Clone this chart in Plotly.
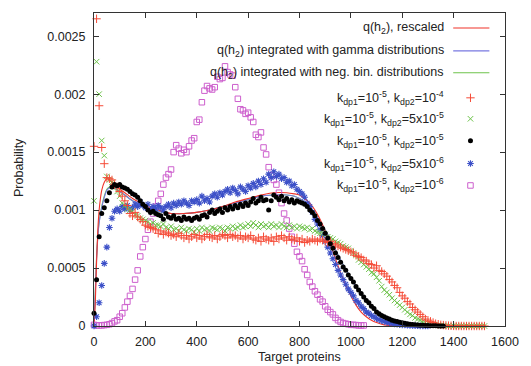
import plotly.graph_objects as go

SCALE = 1e-5  # all probability values below are given in units of 1e-5

# ---------------- data ----------------
bins_red = list(range(0, 1530, 10))
p_red = [155, 265, 190, 154, 140, 128, 127, 126, 122, 120,
         116, 112, 108, 104, 97, 95, 98, 94, 92, 90,
         87, 86, 85, 84, 83, 80, 82, 79, 81, 80,
         78, 79, 77, 80, 78, 76, 78, 75, 77, 79,
         76, 78, 75, 77, 79, 77, 76, 78, 75, 77,
         79, 78, 76, 79, 77, 78, 76, 78, 75, 77,
         76, 78, 75, 74, 76, 73, 77, 75, 74, 76,
         73, 77, 75, 78, 76, 74, 77, 75, 74, 76,
         73, 75, 72, 74, 73, 75, 74, 73, 75, 74,
         73, 72, 73, 71, 70, 69, 68, 67, 66, 65,
         64, 63, 61, 60, 59, 57, 56, 54, 53, 50,
         52, 48, 47, 45, 43, 40, 38, 35, 33, 29,
         26, 24, 21, 19, 16, 14, 12, 10, 8, 6,
         5, 4, 3, 2, 1.5, 1, 0.8, 0.5, 0.3, 0.2,
         0.1, 0, 0, 0, 0, 0, 0, 0, 0, 0,
         0, 0, 0]

bins_green = list(range(0, 1530, 10))
p_green = [108, 228, 200, 160, 147, 129, 126, 124, 120, 116,
           112, 106, 104, 101, 100, 99, 96, 95, 93, 92,
           91, 90, 88, 89, 87, 87, 86, 88, 85, 84,
           86, 83, 84, 82, 85, 83, 82, 84, 83, 81,
           84, 82, 85, 83, 84, 82, 85, 84, 83, 85,
           84, 82, 85, 84, 86, 84, 85, 87, 85, 86,
           88, 86, 89, 87, 85, 88, 86, 87, 85, 88,
           86, 87, 85, 88, 86, 85, 87, 85, 86, 84,
           86, 85, 84, 85, 83, 84, 82, 81, 80, 80,
           79, 77, 76, 75, 73, 72, 71, 69, 68, 67,
           65, 63, 61, 57, 55, 53, 51, 49, 46, 45,
           42, 39, 34, 31, 29, 27, 24, 22, 20, 18,
           16, 14, 12, 10, 9, 7, 6, 5, 4, 3,
           2.5, 2, 1.5, 1, 0.8, 0.5, 0.3, 0.2, 0.1, 0,
           0, 0, 0, 0, 0, 0, 0, 0, 0, 0,
           0, 0, 0]

bins_black = list(range(0, 1370, 10))
p_black = [11, 40, 77, 97, 102, 108, 115, 120, 122, 121,
           122, 120, 119, 118, 116, 114, 113, 111, 108, 105,
           103, 100, 98, 99, 97, 96, 95, 92, 97, 94,
           93, 95, 92, 93, 91, 94, 92, 93, 91, 93,
           94, 92, 95, 96, 94, 98, 100, 97, 99, 101,
           98, 102, 100, 103, 101, 104, 102, 105, 103, 106,
           104, 107, 110, 106, 108, 111, 108, 109, 100, 108,
           113, 111, 109, 112, 108, 110, 107, 109, 106, 108,
           107, 106, 105, 103, 100, 98, 95, 91, 88, 84,
           80, 76, 71, 67, 63, 59, 55, 51, 48, 44,
           41, 38, 34, 31, 28, 25, 22, 20, 17, 15,
           12, 10.5, 9, 8, 7, 6, 5, 4.3, 3.8, 3.2,
           2.7, 2.3, 1.9, 1.6, 1.3, 1.1, 0.9, 0.7, 0.6, 0.5,
           0.4, 0.3, 0.2, 0.15, 0.1, 0.05, 0]

bins_blue = list(range(0, 1310, 10))
p_blue = [0, 8, 20, 35, 54, 68, 85, 93, 99, 101,
          99, 103, 101, 104, 100, 102, 105, 103, 107, 104,
          102, 105, 100, 103, 101, 104, 102, 100, 103, 105,
          102, 106, 104, 107, 105, 108, 106, 104, 108, 107,
          109, 106, 112, 108, 110, 107, 112, 114, 111, 115,
          113, 116, 118, 115, 119, 117, 114, 120, 118, 116,
          121, 119, 123, 120, 125, 122, 127, 124, 131, 128,
          133, 129, 131, 127, 128, 124, 125, 121, 122, 118,
          116, 114, 111, 106, 103, 98, 92, 88, 83, 78,
          73, 68, 63, 58, 53, 48, 44, 40, 36, 32,
          29, 26, 22, 20, 17, 15, 12, 11, 9, 8,
          6.5, 5.5, 4.5, 4, 3.3, 2.7, 2.2, 1.8, 1.5, 1.2,
          1, 0.8, 0.6, 0.5, 0.4, 0.3, 0.2, 0.15, 0.1, 0.05,
          0]

bins_magenta = list(range(0, 1060, 10))
p_magenta = [1, 0.5, 0.5, 0.5, 0.8, 1, 1.5, 2.5, 4, 5,
             8, 11, 16, 21, 26, 32, 40, 48, 60, 68,
             75, 83, 90, 97, 103, 108, 114, 122, 128, 131,
             135, 150, 156, 153, 149, 152, 150, 155, 160, 162,
             176, 178, 193, 203, 207, 205, 204, 206, 215, 213,
             214, 224, 219, 217, 216, 206, 196, 187, 186, 183,
             184, 180, 176, 165, 163, 167, 154, 148, 137, 130,
             126, 122, 115, 106, 97, 91, 84, 77, 71, 64,
             60, 56, 49, 44, 38, 34, 30, 27, 23, 21,
             17, 14, 12, 10, 7, 5, 3.5, 2.5, 2, 1.5,
             1, 1, 0.8, 0.5, 0.5, 0.5]

# smooth curves
line_x_red = [0, 5, 10, 15, 20, 25, 30, 40, 50, 60, 70, 80, 100, 120, 150,
              200, 250, 300, 350, 400, 450, 500, 550, 600, 650, 700, 750,
              780, 800, 820, 840, 860, 880, 900, 920, 940, 960, 980, 1000,
              1020, 1040, 1060, 1080, 1100, 1130, 1160, 1200, 1300, 1500]
q_red = [0, 20, 55, 83, 100, 110, 117, 124, 127, 126, 124, 122, 118, 115, 110,
         104, 100, 97, 97, 98, 100, 103, 107, 110, 113, 115, 115,
         114, 113, 110, 106, 100, 92, 82, 70, 58, 46, 35, 26,
         18, 12, 8, 5, 3, 1, 0.5, 0.1, 0, 0]

line_x_mix = [0, 5, 10, 15, 20, 30, 40, 50, 60, 70, 80, 100, 120, 150, 200,
              250, 300, 350, 400, 450, 500, 550, 600, 650, 700, 750, 780,
              800, 820, 840, 860, 880, 900, 920, 940, 960, 980, 1000, 1020,
              1040, 1060, 1080, 1100, 1120, 1140, 1160, 1180, 1200, 1250,
              1300, 1500]
q_gamma = [0, 28, 58, 77, 89, 102, 111, 117, 119, 120, 119, 116, 113, 108, 102,
           99, 97, 97, 98, 100, 103, 106, 109, 112, 113, 113, 112,
           110, 107, 103, 97, 90, 83, 75, 66, 57, 49, 41, 34,
           27, 21, 16, 12, 9, 6, 4, 3, 2, 1,
           0, 0]
q_negbin = [0, 30, 60, 78, 90, 103, 112, 118, 120, 120, 119, 116, 113, 108, 102,
            99, 97, 97, 98, 100, 103, 106, 109, 112, 113, 113, 112,
            110, 107, 103, 97, 90, 83, 75, 66, 57, 49, 41, 34,
            27, 21, 16, 12, 9, 6, 4, 3, 2, 1,
            0, 0]

x_ticks = [0, 200, 400, 600, 800, 1000, 1200, 1400, 1600]
y_ticks = [0, 0.0005, 0.001, 0.0015, 0.002, 0.0025]
y_tick_labels = ["0", "0.0005", "0.001", "0.0015", "0.002", "0.0025"]

legend_labels = [
    "q(h<sub>2</sub>), rescaled",
    "q(h<sub>2</sub>) integrated with gamma distributions",
    "q(h<sub>2</sub>) integrated with neg. bin. distributions",
    "k<sub>dp1</sub>=10<sup>-5</sup>, k<sub>dp2</sub>=10<sup>-4</sup>",
    "k<sub>dp1</sub>=10<sup>-5</sup>, k<sub>dp2</sub>=5x10<sup>-5</sup>",
    "k<sub>dp1</sub>=10<sup>-5</sup>, k<sub>dp2</sub>=10<sup>-5</sup>",
    "k<sub>dp1</sub>=10<sup>-5</sup>, k<sub>dp2</sub>=5x10<sup>-6</sup>",
    "k<sub>dp1</sub>=10<sup>-5</sup>, k<sub>dp2</sub>=10<sup>-6</sup>",
]

# ---------------- style ----------------
C_RED = "rgb(245,75,55)"
C_RED_LINE = "rgb(240,50,40)"
C_BLUE_LINE = "rgb(120,120,225)"
C_GREEN = "rgb(110,195,75)"
C_BLUE = "rgb(60,80,200)"
C_MAG = "rgb(205,95,205)"
FONT = "Liberation Sans, Arial, Helvetica, sans-serif"

def sc(v):
    return [a * SCALE for a in v]

fig = go.Figure()

line_specs = [
    (line_x_mix, q_negbin, C_GREEN),
    (line_x_mix, q_gamma, C_BLUE_LINE),
    (line_x_red, q_red, C_RED_LINE),
]
for xs, ys, col in line_specs:
    fig.add_trace(go.Scatter(x=xs, y=sc(ys), mode="lines",
                             line=dict(color=col, width=1.1, shape="spline", smoothing=0.6),
                             showlegend=False, hoverinfo="skip"))

M_MAG = dict(symbol="square-open", size=5.5, color=C_MAG, line=dict(width=1, color=C_MAG))
M_BLUE = dict(symbol="asterisk-open", size=5.5, color=C_BLUE, line=dict(width=1.1, color=C_BLUE))
M_GREEN = dict(symbol="x-thin-open", size=5.5, color=C_GREEN, line=dict(width=1, color=C_GREEN))
M_RED = dict(symbol="cross-thin-open", size=6, color=C_RED, line=dict(width=1, color=C_RED))
M_BLACK = dict(symbol="circle", size=5, color="black", line=dict(width=0))

marker_specs = [
    (bins_magenta, p_magenta, M_MAG),
    (bins_blue, p_blue, M_BLUE),
    (bins_green, p_green, M_GREEN),
    (bins_red, p_red, M_RED),
    (bins_black, p_black, M_BLACK),
]
for xs, ys, mk in marker_specs:
    fig.add_trace(go.Scatter(x=xs, y=sc(ys), mode="markers", marker=mk,
                             showlegend=False, hoverinfo="skip", cliponaxis=False))

# ---------------- manual gnuplot-style key ----------------
row_y = [0.952, 0.879, 0.809, 0.729, 0.662, 0.592, 0.519, 0.449]
text_x = 0.857
for lab, yy in zip(legend_labels, row_y):
    fig.add_annotation(x=text_x, y=yy, xref="paper", yref="paper", text=lab,
                       showarrow=False, xanchor="right", yanchor="middle",
                       font=dict(family=FONT, size=12.5, color="#222"))

key_line_cols = [C_RED_LINE, C_BLUE_LINE, C_GREEN]
for col, yy in zip(key_line_cols, row_y[:3]):
    fig.add_trace(go.Scatter(x=[0.874, 0.962], y=[yy, yy], xaxis="x2", yaxis="y2",
                             mode="lines", line=dict(color=col, width=1.1),
                             showlegend=False, hoverinfo="skip"))
key_markers = [M_RED, M_GREEN, M_BLACK, M_BLUE, M_MAG]
for mk, yy in zip(key_markers, row_y[3:]):
    fig.add_trace(go.Scatter(x=[0.916], y=[yy], xaxis="x2", yaxis="y2",
                             mode="markers", marker=mk, showlegend=False,
                             hoverinfo="skip", cliponaxis=False))

# axis titles
fig.add_annotation(x=-0.184, y=0.506, xref="paper", yref="paper", text="Probability",
                   textangle=-90, showarrow=False, xanchor="center", yanchor="middle",
                   font=dict(family=FONT, size=12.5, color="#222"))
fig.add_annotation(x=0.5, y=-0.1, xref="paper", yref="paper", text="Target proteins",
                   showarrow=False, xanchor="center", yanchor="middle",
                   font=dict(family=FONT, size=12.5, color="#222"))

axis_common = dict(showline=True, linecolor="#333", linewidth=1, mirror="ticks",
                   ticks="inside", ticklen=5, tickcolor="#333", tickwidth=1,
                   showgrid=False, zeroline=False,
                   tickfont=dict(family=FONT, size=12.5, color="#222"))

fig.update_layout(
    width=531, height=366,
    margin=dict(l=94, r=18, t=12, b=40, pad=0),
    paper_bgcolor="white", plot_bgcolor="white",
    showlegend=False,
    xaxis=dict(range=[0, 1600], tickvals=x_ticks, ticklabelstandoff=4, **axis_common),
    yaxis=dict(range=[0, 0.0027], tickvals=y_ticks, ticktext=y_tick_labels,
               ticklabelstandoff=5, **axis_common),
    xaxis2=dict(range=[0, 1], overlaying="x", visible=False, fixedrange=True),
    yaxis2=dict(range=[0, 1], overlaying="y", visible=False, fixedrange=True),
)

fig.write_html("out.html", config={"displayModeBar": False},
               post_script="document.body.style.margin='0';document.body.style.padding='0';")
